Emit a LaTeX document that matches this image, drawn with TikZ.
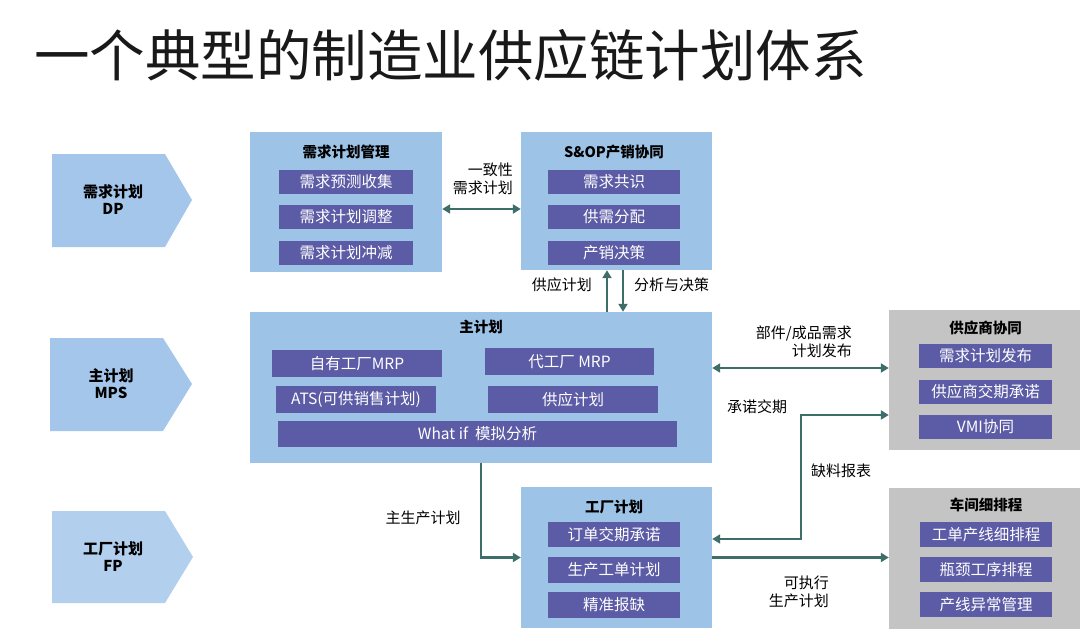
\documentclass[tikz,border=0pt]{standalone}
\usepackage{fontspec}
\setmainfont{Noto Sans CJK SC}
\usetikzlibrary{arrows.meta,calc}
\definecolor{boxblue}{HTML}{9DC3E6}
\definecolor{chevblue}{HTML}{A4C6EA}
\definecolor{itemp}{HTML}{5C5BA6}
\definecolor{graybox}{HTML}{C4C4C4}
\definecolor{arrc}{HTML}{3E6E6A}
\begin{document}
\begin{tikzpicture}[x=1pt,y=-1pt,
  bigbox/.style={fill=boxblue,inner sep=0pt},
  gbox/.style={fill=graybox,inner sep=0pt},
  item/.style={fill=itemp,text=white,inner sep=0pt,font=\fontsize{15.5}{15.5}\selectfont},
  btitle/.style={font=\fontsize{14.5}{15}\selectfont\bfseries,inner sep=0pt},
  lbl/.style={font=\fontsize{15}{18}\selectfont,inner sep=0pt},
  chevtext/.style={font=\fontsize{15}{17}\selectfont\bfseries,align=center,inner sep=0pt},
  arr/.style={draw=arrc,line width=2.6pt,-{Triangle[length=8pt,width=9pt]}},
  darr/.style={draw=arrc,line width=2.6pt,{Triangle[length=8pt,width=9pt]}-{Triangle[length=8pt,width=9pt]}}
]
\useasboundingbox (0,0) rectangle (1080,629);
% title
\node[anchor=west,inner sep=0pt,font=\fontsize{55.5}{56}\selectfont,text=black!90] (title) at (34,55) {一个典型的制造业供应链计划体系};

% chevrons
\fill[chevblue] (52,154) -- (165,154) -- (192,200) -- (165,247) -- (52,247) -- cycle;
\node[chevtext] (cdp) at (113,200) {需求计划\\DP};
\fill[chevblue] (50,338) -- (163,338) -- (192,384) -- (163,431) -- (50,431) -- cycle;
\node[chevtext] (cmps) at (111,384) {主计划\\MPS};
\fill[chevblue!85!white] (52,511) -- (165,511) -- (193,557) -- (165,603) -- (52,603) -- cycle;
\node[chevtext] (cfp) at (113,557) {工厂计划\\FP};

% demand plan management
\node[bigbox,minimum width=192pt,minimum height=140pt] (dpm) at (346,202) {};
\node[btitle] (dpmt) at (346,152) {需求计划管理};
\node[item,minimum width=134pt,minimum height=24pt] (d1) at (346,182) {需求预测收集};
\node[item,minimum width=134pt,minimum height=24pt] (d2) at (346,217) {需求计划调整};
\node[item,minimum width=134pt,minimum height=24pt] (d3) at (346,253) {需求计划冲减};

% S&OP
\node[bigbox,minimum width=191pt,minimum height=138pt] (sop) at (616.5,201) {};
\node[btitle] (sopt) at (614,152) {S\&OP产销协同};
\node[item,minimum width=132pt,minimum height=24pt] (s1) at (614,182) {需求共识};
\node[item,minimum width=132pt,minimum height=24pt] (s2) at (614,217) {供需分配};
\node[item,minimum width=132pt,minimum height=24pt] (s3) at (614,253) {产销决策};

% master plan
\node[bigbox,minimum width=462pt,minimum height=151pt] (mps) at (481,387.5) {};
\node[btitle] (mpst) at (481,327) {主计划};
\node[item,minimum width=170pt,minimum height=27pt] (m1) at (357,363.5) {自有工厂MRP};
\node[item,minimum width=169pt,minimum height=27pt] (m2) at (569.5,361.5) {代工厂 MRP};
\node[item,minimum width=160pt,minimum height=27pt] (m3) at (356,399.5) {ATS(可供销售计划)};
\node[item,minimum width=170pt,minimum height=27pt] (m4) at (573,399.5) {供应计划};
\node[item,minimum width=399pt,minimum height=26pt] (m5) at (477.5,434) {What if\ \ 模拟分析};

% supplier collaboration
\node[gbox,minimum width=191pt,minimum height=140pt] (sup) at (984.5,380) {};
\node[btitle] (supt) at (985.5,328) {供应商协同};
\node[item,minimum width=133pt,minimum height=24pt] (p1) at (985.5,356) {需求计划发布};
\node[item,minimum width=133pt,minimum height=24pt] (p2) at (985.5,392) {供应商交期承诺};
\node[item,minimum width=133pt,minimum height=24pt] (p3) at (985.5,427) {VMI协同};

% factory plan
\node[bigbox,minimum width=191pt,minimum height=141pt] (fac) at (616.5,557.5) {};
\node[btitle] (fact) at (614,507) {工厂计划};
\node[item,minimum width=132pt,minimum height=25pt] (f1) at (614,534.5) {订单交期承诺};
\node[item,minimum width=132pt,minimum height=26pt] (f2) at (614,570) {生产工单计划};
\node[item,minimum width=132pt,minimum height=26pt] (f3) at (614,605) {精准报缺};

% shop floor scheduling
\node[gbox,minimum width=191pt,minimum height=141pt] (shop) at (984.5,558.5) {};
\node[btitle] (shopt) at (986,505) {车间细排程};
\node[item,minimum width=132pt,minimum height=25pt] (h1) at (986,534.5) {工单产线细排程};
\node[item,minimum width=132pt,minimum height=25pt] (h2) at (986,569.5) {瓶颈工序排程};
\node[item,minimum width=132pt,minimum height=25pt] (h3) at (986,604.5) {产线异常管理};

% connectors
\coordinate (a1) at ([yshift=-7pt]dpm.east);
\draw[darr] (a1) -- (a1 -| sop.west);
\node[lbl,anchor=east,align=right] (l1) at (513,179) {一致性\\需求计划};

\coordinate (u1) at ([xshift=-9.5pt]sop.south);
\coordinate (u2) at ([xshift=6.5pt]sop.south);
\draw[arr] (u1 |- mps.north) -- (u1);
\draw[arr] (u2) -- (u2 |- mps.north);
\node[lbl,anchor=east] (l2) at (592,285) {供应计划};
\node[lbl,anchor=west] (l3) at (634,285) {分析与决策};

\coordinate (b1) at ([yshift=19.5pt]mps.east);
\draw[darr] (b1) -- (b1 -| sup.west);
\node[lbl,anchor=east,align=right] (l4) at (852,342) {部件/成品需求\\计划发布};

\coordinate (c1) at ([yshift=18.5pt]fac.east);
\coordinate (c2) at ([yshift=-35pt]sup.west);
\coordinate (cx) at (801,0);
\draw[darr] (c1) -- (c1 -| cx) -- (c2 -| cx) -- (c2);
\node[lbl,anchor=west] (l5) at (727,407) {承诺交期};
\node[lbl,anchor=west] (l6) at (811,471) {缺料报表};

\draw[arr] (mps.south) |- (fac.west);
\node[lbl] (l7) at (423,518) {主生产计划};

\draw[arr] (fac.east) -- (fac.east -| shop.west);
\node[lbl,anchor=east,align=right] (l8) at (829,592) {可执行\\生产计划};
\end{tikzpicture}
\end{document}
